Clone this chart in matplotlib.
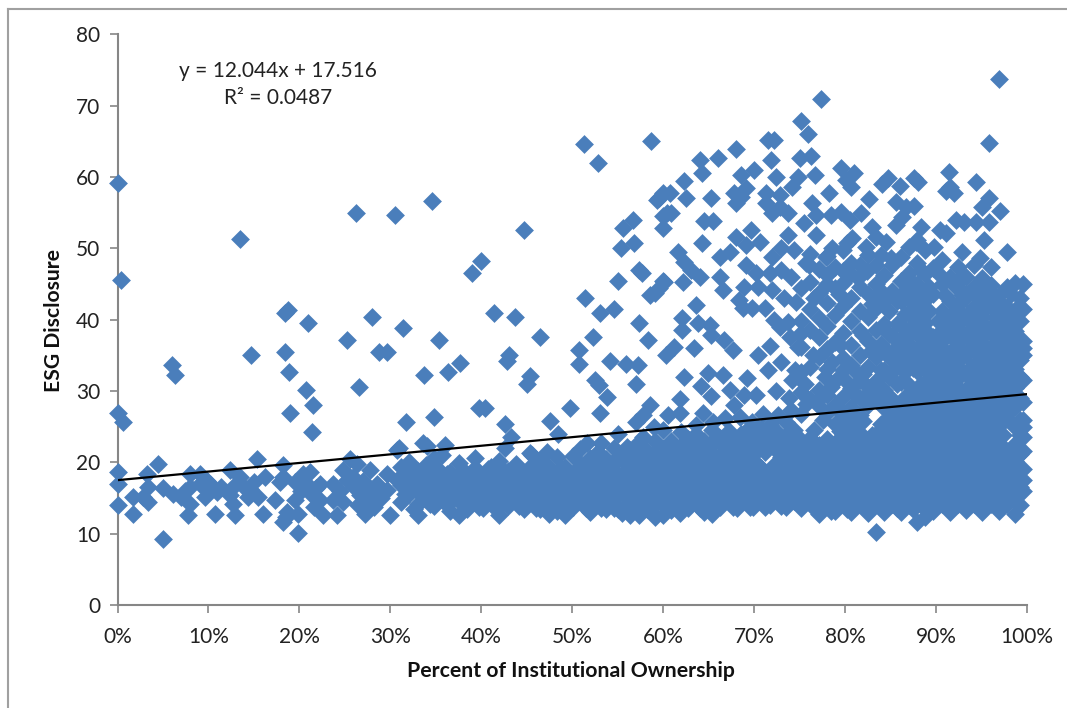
import matplotlib
matplotlib.use("Agg")
import matplotlib.pyplot as plt
from matplotlib.lines import Line2D

# Tick labels and trend line
x_ticks = [0, 10, 20, 30, 40, 50, 60, 70, 80, 90, 100]
x_labels = ["0%", "10%", "20%", "30%", "40%", "50%", "60%", "70%", "80%", "90%", "100%"]
y_ticks = [0, 10, 20, 30, 40, 50, 60, 70, 80]
trend_x = [0, 100]
trend_y = [17.5, 29.56]

# Scattered points, x in percent
sparse_left = [(0.1,59.2),(0.4,45.6),(13.5,51.3),(26.2,55),(30.5,54.7),(34.6,56.6),(0,26.9),(0.6,25.6),(6,33.6),(6.3,32.3),
    (14.7,35),(18.4,41),(18.7,41.3),(21,39.6),(18.4,35.5),(18.9,32.7),(20.7,30.2),(21.5,28.1),(21.4,24.3),(19,26.9),
    (25.2,37.1),(26.5,30.6),(28,40.4),(28.7,35.5),(29.6,35.5),(31.4,38.8),(31.7,25.6),(33.7,32.2),(34.8,26.4),(35.4,37.1),
    (36.3,32.7),(37.7,33.9),(39,46.5),(40,48.2),(41.4,40.9),(43.7,40.4),(44.7,52.5),(43,35),(42.8,34.2),(45,31),(45.4,32.1),
    (46.4,37.5),(39.8,27.6),(40.4,27.6),(42.6,25.4),(43.3,23.6),(33.6,22.7),(34,22.3),(31,22),(36,22.4),(42.6,22),(47.6,25.8),
    (48.4,24),(49.8,27.6),(53,26.9),(55,24),(57,25.7),(59,25),(57.8,23.6),(58.5,28),(57.8,26.6),(45.4,21.3),(47.2,21.5),
    (50.8,21.8),(51.6,22.7),(53.2,22.7),(56,22.2),(59.3,21.7)]
sparse_mid = [(51.3,64.6),(52.8,62),(51.4,43),(52.3,37.5),(53,40.9),(54.6,41.5),(55,45.4),(55.4,50),(55.6,52.8),(56.7,54),
    (56.8,50.7),(58.7,65),(50.7,35.8),(50.7,33.8),(52.5,31.5),(52.9,30.9),(53.8,29.2),(54.2,34.2),(55.9,33.8),(57.2,33.6),
    (57,31),(57.3,39.6),(57.3,47),(57.7,46.5),(58.3,37.1),(58.5,43.4),(59.1,43.8),(59.5,44.5),(60,45.4),(59.5,57),(60,57.8),
    (60.8,57.8),(60,54.5),(60,52.8),(60.9,55),(59.3,56.8),(60.3,35),(61.2,36.2),(60.5,26.7),(61.8,26.9),(61.8,28.9),(60,24.6),
    (62,24.2),(63.6,25.3),(65.5,25.6),(66.8,26.2),(68.4,26.4),(69.8,25.7),(71,26.8),(72.6,26.6),(74,27.4),(73.8,29),(74.2,31.6),
    (62.3,32),(64.9,32.5),(66.6,32.3),(64.2,30.7),(65.3,29.3),(67.3,30.2),(69.2,31.8),(68.9,29.5),(70.2,29.5),(72.4,30),
    (64.4,26.9),(67.8,28.1),(63.4,36),(63.6,42),(62.1,40.3),(62.1,38.5),(63.8,39.6),(65.1,39.3),(65.3,37.9),(66.7,37.1),
    (67.7,35.8),(70.4,35),(71.7,36.3),(68.3,42.7),(68.8,41.6),(69.8,41.6),(71.2,41.6),(68.9,44.6),(70.4,44.6),(72,44.2),
    (69.1,47.7),(70.2,46.5),(71.7,46.5),(72.2,40),(73.7,39.7),(72.8,39),(73.9,37.6),(74.8,36.2),(71.5,33),(73,34)]
sparse_top = [(77.4,71),(96.9,73.8),(75.2,67.8),(75.9,66),(71.5,65.2),(72.2,65.2),(68,63.9),(95.8,64.7),(66,62.6),(64,62.4),
    (64.3,60.6),(71.9,62.4),(75,62.7),(76.3,63),(70,61),(68.5,60.3),(72.4,60),(74.8,60),(76.7,60.3),(74.2,58.6),(79.6,61.2),
    (81,60.5),(80.1,59.6),(80.7,58.6),(84.7,59.8),(84.1,59),(86,58.7),(87.6,59.8),(88,59.3),(91.4,60.7),(91.5,58.6),(92,57.7),
    (91.1,58),(94.4,59.3),(78.2,57.8),(82.6,56.9),(81.8,54.9),(62.3,59.4),(62.5,57.1),(65.3,57),(60.4,54.9),(64.5,53.8),
    (65.5,53.8),(64.3,50.7),(61.6,49.5),(62.3,48.1),(63.1,47),(64,46),(62.2,45.3),(60.1,45.3),(66.6,44.2),(66.2,46),(66.2,48.8),
    (67.3,49.5),(68,51.6),(69.7,52.6),(70.6,50.9),(69.1,50.5),(67.8,57.7),(69.1,58.4),(68,56.3),(68.6,57.2),(71.3,57.7),
    (72.8,57.5),(71.3,56.3),(72,54.9),(73.7,54.9),(72.8,55.8),(76.4,56.3),(75.5,53.5),(76.8,51.9),(73.7,51.9),(73,50),(74.4,49.7),
    (72,48.8),(76.8,54.7),(78.5,54.7),(79.6,55.1),(80.5,54),(80.8,51.4),(83,53),(83.4,51.6),(84.5,50.9),(82.3,50.2),(78.6,50),
    (75.7,47.9),(86.7,55.8),(87.6,56),(85.6,56.5),(86.3,54.4),(85.6,53.3),(88.4,53),(90.4,52.6),(91.1,52.1),(87.8,50.9),(89.8,50.2),
    (92.2,54),(93.1,53.7),(94.4,53.7),(95.8,53.7),(95.1,55.8),(95.8,57),(97,55.3),(95.3,51.2),(97.8,49.5),(92.9,49.5),(94.8,48.6)]
sparse_extra = [(74.5,33),(75.6,31),(76.5,35),(77.8,32),(78.6,34),(79.4,36.5),(75,38),(76.6,43),(78,45),(79.3,43.6),(80.6,48),
    (81.4,45.9),(82.4,46.8),(83.2,43),(84,49),(85,48.6),(77.2,29),(79,31.6),(74.6,42.5),(73.3,43),(74,46),(76,47.6),(73,47),
    (77.9,48.8),(79.8,46.8),(80.2,50.8)]

# Left end of the low band
band_left = [(0,18.6),(0.1,17),(0,14),(1.75,12.7),(1.75,15.2),(2.85,15.2),(3.2,18.3),(3.4,16.6),(3.4,14.5),(4.5,19.7),(5,9.3),
    (5,16.4),(6.1,15.6),(7,15.2),(8,18.3),(8,16.6),(8,14.2),(7.8,12.6),(9.1,18.3),(9.1,17),(9.6,15.2),(10.2,17),(10.9,15.9),
    (10.7,12.7),(12.4,18.9),(12.4,15.4),(12.7,16.6),(12.7,14.2),(12.9,12.6),(13.5,18),(14.4,15.2),(15.3,20.5),(15,17.3),(15.5,15.2),
    (16.2,18),(16,12.7),(17.3,14.7),(18.2,19.6),(18.2,18),(17.9,17.3),(18.6,13),(18.2,11.7),(18.5,12.4),(19.9,10.1),(19.5,14.7),
    (19.9,12.7),(19.5,17.3),(20.4,18.4),(21.2,18.7),(20.8,17),(21.4,15.4),(22.3,14.7),(22.6,12.6),(22.3,17),(23.7,14.7),(24.1,12.6),
    (23.7,17),(24.8,18.9),(25.6,20.5),(26.3,19.8),(25.2,17.5),(25.9,18),(26.7,15.4),(27.2,12.7),(27.8,18.9),(27.8,14.7),(28.5,17),
    (29.6,18.4),(30,12.6),(29.6,16.1),(30.7,21.7),(30.7,17.5),(24.5,16),(26,16.6),(27,17.4),(24.8,14.4),(21.8,16.4),(28.6,15.6),
    (27.5,16.2),(28.2,13.8),(29,15),(26.4,14),(10,16),(11.4,16.6),(13.9,16.6),(14.6,16.2),(9.8,17.4),(7.4,16),(21.6,13.8),(20.2,16)]

# Low band from 30% on: one x per column, the y values of that column below
band_x = [31.2,32.1,33,33.9,34.8,35.7,36.6,37.5,38.4,39.3,40.2,41.1,42,42.9,43.8,44.7,45.6,46.5,47.4,48.3,49.2,50.1,51,51.9,52.8,53.7,54.6,55.5,56.4,57.3,58.2,59.1]
band_y = [[14.4,16.8,19.4],[15.6,17.9,20.1],[12.6,14.2,16.5,18.8],[15.3,17.4,19.6],[13.9,16.1,18.2,20.6],[15,17.6,21],
    [13.2,16.2,18.7],[12.6,14.6,17,19.9],[13.4,15.8,18.1],[14.5,16.9,19.2,20.6],[13.6,15.7,18],[14.7,17.1,19.4],[12.6,15.5,17.6,20.2],
    [13.9,16.3,18.8],[14.9,17.4,19.8],[13.5,15.8,18.2],[14.6,16.8,19.3,21],[13.4,15.7,18.1,20.1],[12.7,14.7,17,19.4],[13.2,15.6,18,20.8],
    [12.6,14.6,16.9,19.3],[13.7,15.9,18.3,20.9],[14.8,17.1,19.6],[13,15.7,18.2,20.6],[14.4,16.8,19.2,21.4],[13.5,15.8,18.3,20.4],
    [13.6,14.9,17.2,19.7,22],[12.9,15.8,18.1,20.6],[12.6,14.6,17,19.5,21.7],[12.6,15.7,18.2,20.4,22.8],[13.4,14.8,17.1,19.6,21.6],[12.4,15.7,18.4,20.5,23]]
band_fill_x = [31.6,32.6,33.4,34.4,35.2,36.2,37,38,38.9,39.8,40.7,41.6,42.4,43.4,44.2,45.2,46,47,47.9,48.8,49.7,50.6,51.5,52.4,53.2,54.2,55,56,56.9,57.8,58.7,59.6]
band_fill_y = [[15.6,18],[13.4,16.8,18.9],[15.4,17.6],[14.1,16.3,18.5],[15,17.2,19.1],[14,16.1,18.3],[15.4,17.8],[14.1,16.4,18.9],[14.9,17],
    [13.7,15.9,18.1],[14.6,16.8,19],[13.5,15.9,18.2],[14.5,16.7,18.9],[15,17.1],[13.9,16.1,18.5],[14.7,17,19.2],[13.6,15.9,18],
    [14.6,16.9,18.9],[13.9,15.9,18.2],[14.4,16.8,19],[13.6,15.9,18.1],[14.8,16.9,19],[13.6,15.9,18.2],[14.6,16.9,19.2],[13.6,15.9,18],
    [14.8,17,19.2],[13.5,15.9,18.2,20.8],[14.2,16.8,19.1],[13.5,15.9,18.3,20.6],[14.4,17,19.3,21.6],[13.4,16,18.2,20.5],[14.6,17,19.4,22]]

# 60-75%, denser and a bit taller
mid_x = [60,60.9,61.8,62.7,63.6,64.5,65.4,66.3,67.2,68.1,69,69.9,70.8,71.7,72.6,73.5,74.4]
mid_y = [[12.6,14.7,17.1,19.4,21.8],[13.3,15.9,18.3,20.7,23],[12.9,14.8,17.2,19.6,22.1],[13.6,16,18.5,20.8,23.2],[14.7,17.2,19.4,22.2,24],
    [13.1,15.8,18.2,20.3,23],[12.8,14.7,17.1,19.1,22.6,24.6],[13.7,15.9,18.4,20.8,23.4],[14.7,17.1,19.6,22,24.4],[13.6,15.8,18.2,20.7,23.1],
    [14.6,17,19.5,21.9,24.2],[13.8,16.1,18.4,21,23.5],[14.7,17.2,19.2,22.2,24.7],[14,16.1,18,22.8,25.2],[14.9,17.1,19,21.8,24],
    [13.8,16.2,18.7,21,23.3,25.6],[14.6,17.1,19.6,21.9,24.5]]
mid_fill_x = [60.4,61.3,62.2,63.2,64,65,65.8,66.8,67.7,68.6,69.5,70.4,71.2,72.2,73,74,74.9]
mid_fill_y = [[13.8,16,18.3,20.5],[14.6,17,19.5,21.8],[13.8,16,18.4,20.8],[14.8,17.2,19.6,21.7],[13.6,16,18.3,20.9],[14.4,16.9,19.2,21.6],
    [13.8,16,18.3,20.7,23.4],[14.8,17.2,19.6,22],[13.8,15.9,18.3,20.8,23.2],[14.8,17,19.4,21.9,24],[13.8,16,18.2,20.7,23],[14.8,17.2,19.6,22.2,24.6],
    [13.8,16,18.1,21.4,23.6],[14.9,17,19.6,22,24.7],[13.9,16,18.4,20.8,23],[14.9,17.4,19.8,22.2,24.6],[14,16.2,18.6,21,23.4]]

# 75-100% cloud
cloud_x = [75.2,76.1,77.1,78,78.9,79.8,80.7,81.6,82.5,83.4,84.3,85.2,86.1,87,87.9,88.8,89.7,90.6,91.5,92.4,93.3,94.2,95.1,96,96.9,97.8,98.7,99.6]
cloud_y = [[13.6,15.8,18.1,20.4,22.8,26.8,29.8,32.6,36.2,39.8,44.5],
    [14.4,16.9,19.2,21.6,23.4,28.9,33.4,38.6,41.5,45.3,49.2],
    [12.8,15.2,17.6,20.1,22.4,27.9,30.2,34.8,37.6,40.2,43.8,47.1],
    [14.1,16.4,18.9,21.3,23.3,26.9,29.4,33.1,35.9,39.1,42.4,46.2,48.9],
    [13.2,15.5,17.9,20.2,22.7,25.4,28.1,36.8,40.6,44.4,47.4],
    [14.3,16.7,19,21.5,24,26.6,29.2,32.9,34.6,38.1,41.9,45.2,49.7],
    [13,15.3,17.8,20.3,22.8,25.2,27.8,30.4,33.6,36.4,39.8,43.1,46.4],
    [14.2,16.6,19.1,21.6,24.1,26.6,29,31.6,35,38.4,41.2,44.6,47.6],
    [12.9,15.4,17.7,20.2,22.9,28,30.5,33.4,37,40.4,43.6,49],
    [10.3,14.1,16.5,19,21.5,24,28.7,31.4,34.8,38.6,41.6,45,47.6],
    [13.1,15.3,17.8,20.3,22.8,25.3,27.6,30.2,33,36,39.4,42.8,46.2],
    [14.2,16.6,19,21.4,23.9,26.5,28.9,32.6,34.8,37.7,44,47.6],
    [13,15.5,17.9,20.3,22.7,25.2,27.7,31.2,33.6,36.6,39.2,42.6,45.4,48.8],
    [14,16.4,18.8,21.2,23.6,26.1,28.5,30.8,34.4,37.8,40.8,43.8,46.6,50.2],
    [11.6,15.2,17.6,20,22.5,24.9,27.4,29.6,32.8,35.8,38.8,41.9,45,48,51.2],
    [12.4,14,16.4,18.8,21.2,23.7,26.2,28.6,31,33.6,36.6,39.6,42.8,46.4,49.8],
    [13.2,15.3,17.7,20.1,22.5,24.9,27.4,29.8,32.2,34.8,37.5,43.6,47.2],
    [14.2,16.6,19,21.4,23.8,26.2,28.6,31,33.5,36,38.6,41.2,45,48.4],
    [13.1,15.5,17.9,20.3,22.7,25.1,27.6,30.1,32.6,35.2,37.8,42.6,46],
    [14.1,16.5,18.9,21.3,23.7,26.1,28.5,31.8,34.2,36.8,39.4,42,44.6,47.4],
    [13.3,15.4,17.8,20.2,22.6,25,27.4,29.9,32.4,35,37.7,40.4,43.2,46],
    [14.2,16.6,19,21.4,23.8,26.2,28.6,31,33.6,36.4,39,41.8,44.6,47.6],
    [13,15.4,17.8,20.2,22.6,25,27.5,29.8,32.2,34.9,37.6,40.4,43.2,45.9],
    [14.1,16.5,18.9,21.3,23.7,26.1,28.6,31,33.6,36.2,39,42,44.8,47.4],
    [13.2,15.5,17.9,20.3,22.7,25.1,27.5,29.8,32.4,35,37.6,40.6,43.4],
    [14.2,16.6,19,21.4,26.2,28.6,31,33.8,36.4,39.2,41.8,44.6],
    [12.7,15.4,17.8,20.2,22.6,25,27.8,30.4,33.1,35.8,38.4,41.4,45.2],
    [16,17.5,19,21.6,23.5,25,26,28.4,31.5,35,36,37,41.5,45]]
cloud_fill_x = [75.7,76.6,77.6,78.5,79.4,80.2,81.2,82,83,83.9,84.8,85.7,86.6,87.5,88.4,89.2,90.2,91,92,92.9,93.8,94.7,95.6,96.5,97.4,98.2,99.2]
cloud_fill_y = [[15,17.2,19.6,22,28.2],[13.6,16,18.2,20.6,24.6],[14.4,16.6,19,21.4,26],[13.2,15.4,17.6,20.2,22.6,30.6],[14.6,16.8,19.4,21.8,24.4,27.4],
    [13.4,15.4,18,20.6,23,25.6,31.2],[14.4,16.8,19.2,21.6,24,26.6,29.4,32.6],[13.8,15.8,18.2,20.8,23.2,25.8,29,32.4,37.8],[14.6,17,19.4,21.8,23.8,29.6,35.8,42.2],
    [13.6,15.6,18,20.4,22.8,25.4,30,33,36.6,44],[14.4,16.8,19.2,21.6,24,26.4,29,32,34.8,38,41.2],[13.6,15.8,18.2,20.6,23,25.2,27.8,31,33.8,36.2,39.4,42.6],
    [14.6,16.8,19.2,21.6,24,26.6,29.2,32.6,35.2,38,40.8,44],[13.4,15.6,18,20.4,22.8,25.2,27.6,29.8,33.2,36,39.2,42.2,45.2],[14,16.6,19,21.4,23.8,26.2,28.6,31,34.4,37.4,40.2,43.4,47],
    [15,17.6,20,22.4,24.8,27.4,29.8,32.4,35.2,38,41.2,44.6],[14,16.4,18.8,21.2,23.6,26,28.4,31,33.4,36,39.8,46.6],[15.2,17.6,20,22.4,24.8,27.2,29.6,32.2,34.6,37.4,40,43.4],
    [14,16.4,18.8,21.2,23.6,26,28.4,31,33.6,36,39,41,44.8],[15.2,17.6,20,22.4,24.8,27.2,29.8,32.8,35.6,38.2,40.8,43.4,46],[14.2,16.6,19,21.4,23.8,26.2,28.6,31,33.4,36,38.6,41.2,44],
    [15.2,17.6,20,22.4,24.8,27.2,29.8,32.2,35,37.6,40.2,43],[14,16.4,18.8,21.2,23.6,26,28.4,30.8,33.4,36,38.8,41.8,44.4],[15.2,17.6,20,22.4,24.8,27.2,29.6,32.2,35,37.6,40.4,43.2],
    [14.2,16.6,19,21.4,23.8,26.2,28.8,31.2,34,36.6,39,42],[15,17.6,20,21.8,27.4,29.8,32.4,35,37.8,40.6,43.6],[14,16.6,19,21.2,23.8,26,29,32,34.4,37,39.8,43]]

# Flatten the column lists
xs = []
ys = []
for group in [sparse_left, sparse_mid, sparse_top, sparse_extra, band_left]:
    for px, py in group:
        xs.append(px)
        ys.append(py)
for col_x, col_y in [(band_x, band_y), (band_fill_x, band_fill_y), (mid_x, mid_y), (mid_fill_x, mid_fill_y),
                     (cloud_x, cloud_y), (cloud_fill_x, cloud_fill_y)]:
    for px, col in zip(col_x, col_y):
        for py in col:
            xs.append(px)
            ys.append(py)

W, H = 1067, 708
plt.rcParams['font.family'] = ['Lato', 'DejaVu Sans']
fig = plt.figure(figsize=(W / 100, H / 100), dpi=100)
ax = fig.add_axes([117.5 / W, 1 - 605 / H, (1027 - 117.5) / W, (605 - 34.3) / H])

gray = "#868686"
ax.scatter(xs, ys, marker="D", s=92, color="#4a7ebb", linewidths=0, clip_on=False, zorder=3)
ax.plot(trend_x, trend_y, color="black", lw=1.6, zorder=4)

ax.set_xlim(0, 100)
ax.set_ylim(0, 80)
ax.set_xticks(x_ticks)
ax.set_xticklabels(x_labels)
ax.set_yticks(y_ticks)
for side in ["top", "right"]:
    ax.spines[side].set_visible(False)
for side in ["left", "bottom"]:
    ax.spines[side].set_color(gray)
    ax.spines[side].set_linewidth(1.5)
ax.tick_params(axis="both", length=5.5, width=1.2, color=gray, labelsize=15, labelcolor="#222222")
ax.tick_params(axis="x", pad=10)
ax.tick_params(axis="y", pad=7)

fig.text(571 / W, 1 - 671 / H, "Percent of Institutional Ownership", ha="center", va="center",
         fontsize=15.3, fontweight="bold", color="#111111")
fig.text(54 / W, 1 - 320 / H, "ESG Disclosure", ha="center", va="center", rotation=90,
         fontsize=15.2, fontweight="bold", color="#111111")
fig.text(278 / W, 1 - 71 / H, "y = 12.044x + 17.516", ha="center", va="center", fontsize=15, color="#222222")
fig.text(278 / W, 1 - 98 / H, "R² = 0.0487", ha="center", va="center", fontsize=15, color="#222222")

# Outer chart frame, only left and top show in the crop
fig.add_artist(Line2D([8 / W, 8 / W], [0, 1 - 9 / H], color="#a0a0a0", lw=1.5))
fig.add_artist(Line2D([8 / W, 1], [1 - 9 / H, 1 - 9 / H], color="#a0a0a0", lw=1.5))

fig.savefig("out.png", dpi=100)
